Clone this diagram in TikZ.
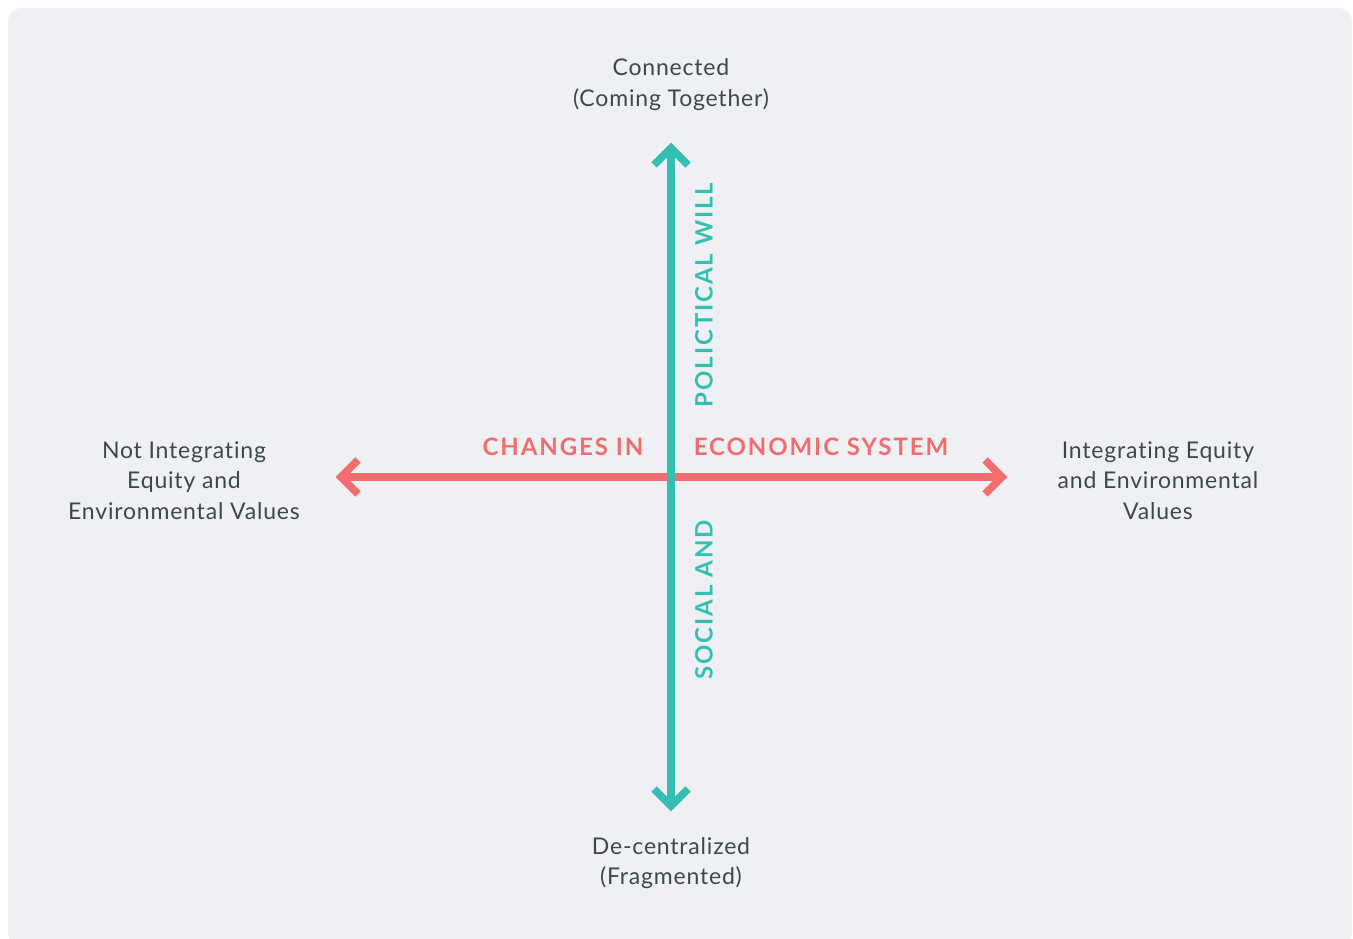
\documentclass[tikz,border=0pt]{standalone}
\usepackage{fontspec}
\setmainfont{Lato}[LetterSpace=3.5,Ligatures=NoCommon]
\newfontfamily\capfont{Lato}[LetterSpace=8]
\definecolor{bgc}{RGB}{239,240,244}
\definecolor{tealc}{RGB}{52,191,180}
\definecolor{coralc}{RGB}{241,109,110}
\definecolor{txtc}{RGB}{58,72,82}
\tikzset{
  endlabel/.style={font=\fontsize{23}{30.5}\selectfont, text=txtc, align=center, inner sep=0pt},
  axislabel/.style={font=\capfont\bfseries\fontsize{24}{26}\selectfont, inner sep=0pt},
  axisline/.style={line width=7.5pt},
  chev/.style={line width=7.5pt, miter limit=10}
}
\begin{document}
\begin{tikzpicture}[x=1pt,y=-1pt]
\useasboundingbox (0,0) rectangle (1353,939);
\fill[bgc, rounded corners=13pt] (8,8) rectangle (1352,946);
% axis end points
\coordinate (top) at (671,148);
\coordinate (bottom) at (671,806);
\coordinate (left) at (341,477);
\coordinate (right) at (1002,477);
% axes
\draw[axisline, coralc] (left) -- (right);
\draw[chev, coralc] ([shift={(17,-17)}]left) -- (left) -- ([shift={(17,17)}]left);
\draw[chev, coralc] ([shift={(-17,-17)}]right) -- (right) -- ([shift={(-17,17)}]right);
\draw[axisline, tealc] (top) -- (bottom);
\draw[chev, tealc] ([shift={(-17,17)}]top) -- (top) -- ([shift={(17,17)}]top);
\draw[chev, tealc] ([shift={(-17,-17)}]bottom) -- (bottom) -- ([shift={(17,-17)}]bottom);
% end labels (base = baseline of last line)
\node[endlabel, anchor=base] (conn) at (671,106.5) {Connected\\(Coming Together)};
\node[endlabel, anchor=base] (decen) at (671,884.5) {De-centralized\\(Fragmented)};
\node[endlabel, anchor=base] (notint) at (184,519) {Not Integrating\\Equity and\\Environmental Values};
\node[endlabel, anchor=base] (integ) at (1158,519) {Integrating Equity\\and Environmental\\Values};
% axis labels
\node[axislabel, text=coralc] (changes) at (563,446.5) {CHANGES IN};
\node[axislabel, text=coralc] (econ) at (821,446.5) {ECONOMIC SYSTEM};
\node[axislabel, text=tealc, rotate=90] (polit) at (704,295) {POLICTICAL WILL};
\node[axislabel, text=tealc, rotate=90] (social) at (704,600) {SOCIAL AND};
\end{tikzpicture}
\end{document}
